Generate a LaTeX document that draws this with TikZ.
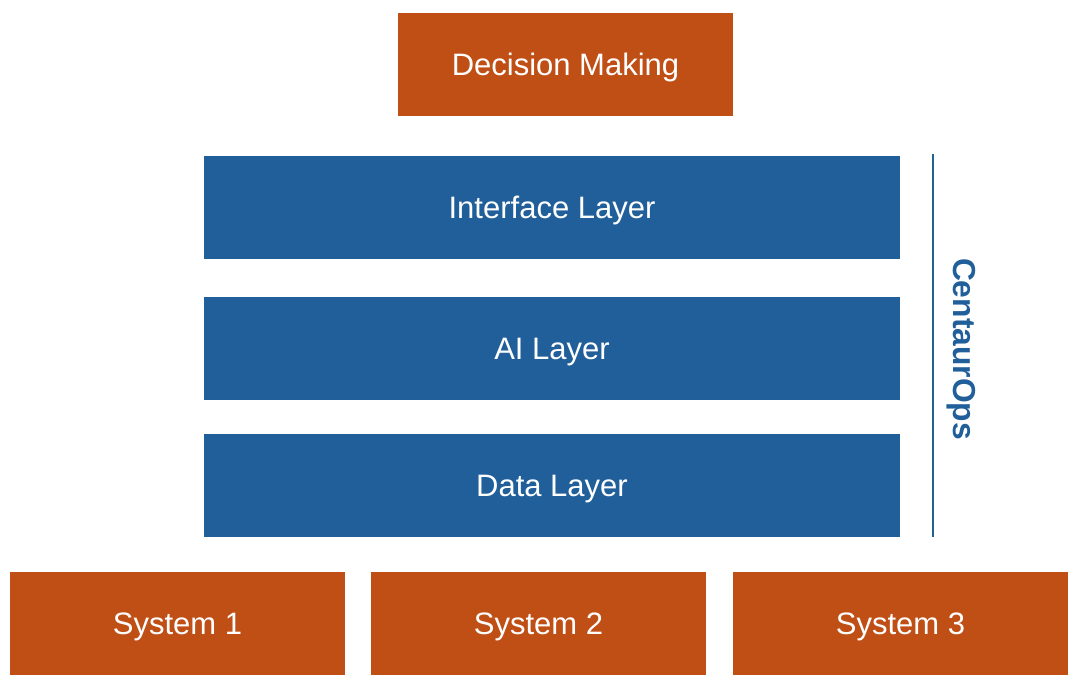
\documentclass[tikz,border=0pt]{standalone}
\usepackage{fontspec}
\setmainfont{Liberation Sans}
\definecolor{orng}{HTML}{C04F15}
\definecolor{blu}{HTML}{215F9A}
\definecolor{lineblu}{HTML}{1F6391}
\begin{document}
\begin{tikzpicture}[x=1pt,y=-1pt,
  base/.style={draw=none,text=white,font=\fontsize{31}{34}\selectfont,
    text height=28pt,text depth=6pt,minimum height=103pt},
  obox/.style={base,fill=orng,minimum width=335pt},
  bbox/.style={base,fill=blu,minimum width=696pt}]
\useasboundingbox[fill=white] (0,0) rectangle (1075,683);
\node[obox] (dm) at (565.5,64) {Decision Making};
\node[bbox] (il) at (552,207) {Interface Layer};
\node[bbox] (ai) at (552,348.5) {AI Layer};
\node[bbox] (dl) at (552,485) {Data Layer};
\node[obox] (s1) at (177.5,623.5) {System 1};
\node[obox] (s2) at (538.5,623.5) {System 2};
\node[obox] (s3) at (900.5,623.5) {System 3};
\coordinate (lt) at (933,154);
\coordinate (lb) at (933,537);
\draw[lineblu,line width=2.2pt] (lt) -- (lb);
\node[text=blu,font=\bfseries\fontsize{31.8}{34}\selectfont,rotate=-90] (co) at (961,349) {CentaurOps};
\end{tikzpicture}
\end{document}
